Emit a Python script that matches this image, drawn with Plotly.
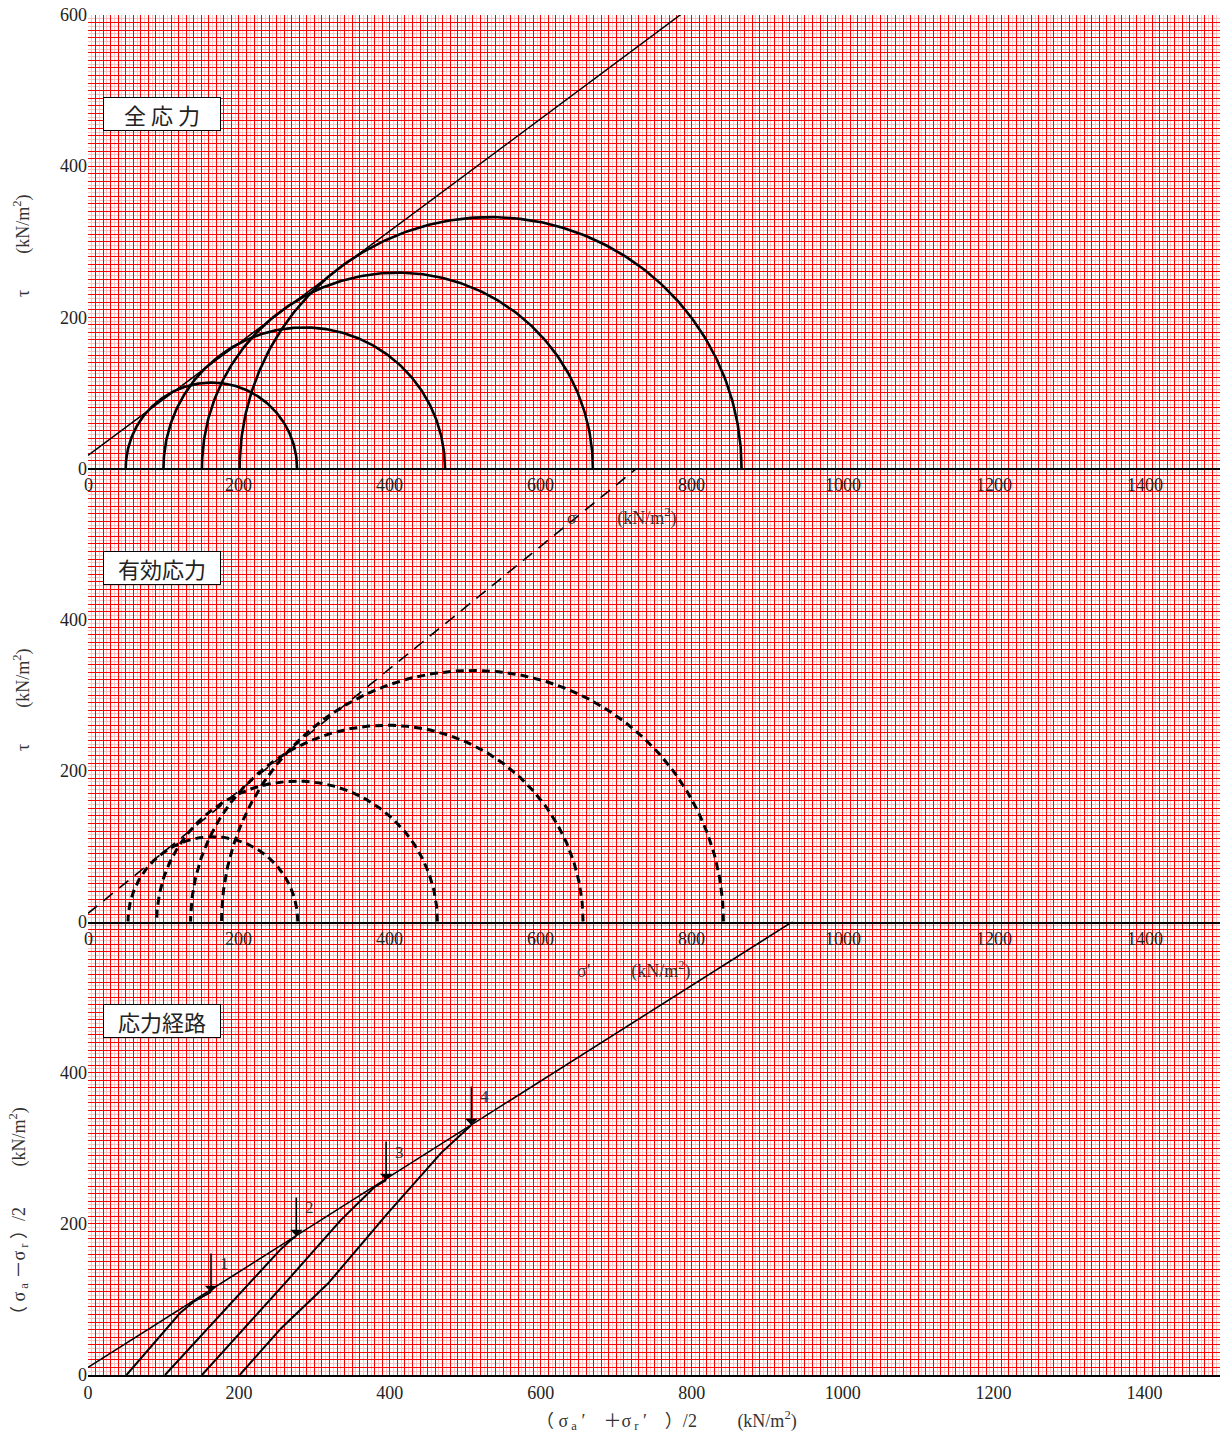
import numpy as np
import plotly.graph_objects as go

# ---------------- data ----------------
# total stress Mohr circles (sigma3, sigma1) kN/m2
tot_s3 = [50, 100, 151, 201]
tot_s1 = [277, 473, 669, 866]
# effective stress Mohr circles (sigma3', sigma1')
eff_s3 = [53, 91, 136, 177]
eff_s1 = [278, 463, 656, 842]
# failure envelopes: cohesion and slope (tan phi)
env_tot_c, env_tot_tan = 17, 0.743
env_eff_c, env_eff_tan = 11, 0.81
# Kf line of stress path diagram
kf_a, kf_tan = 10, 0.632

# effective stress paths  p'=(sa'+sr')/2 , q=(sa-sr)/2
path_p = [
    [51, 87, 122, 140, 152, 163],
    [102, 157, 210, 254, 268, 276],
    [151, 208, 265, 335, 380, 395],
    [201, 256, 318, 397, 468, 508],
]
path_q = [
    [0, 42, 82, 97, 104, 110],
    [0, 60, 117, 165, 178, 184],
    [0, 63, 126, 205, 249, 258],
    [0, 62, 121, 214, 294, 331],
]
path_labels = ["1", "2", "3", "4"]

x_tick_step, x_label_step, x_max = 10, 200, 1500
y_tick_step, y_label_step, y_max = 10, 200, 600
x_label_vals = list(range(0, x_max, x_label_step))

panel_titles = ["全 応 力", "有効応力", "応力経路"]

# ---------------- styling ----------------
SERIF = "Liberation Serif, Noto Sans CJK JP, serif"
JP = "Noto Sans CJK JP, sans-serif"
TXT = "#222222"
L, R, T, B = 88, 1, 15, 61
W, H = 1221, 1436
PW, PH = W - L - R, H - T - B
TICK_SIZE = 18

# subplot ids: top = (x3, y3), middle = (x2, y2), bottom = (x, y)
TOP, MID, BOT = "3", "2", ""


def paper(px, py):
    return (px - L) / PW, (H - B - py) / PH


fig = go.Figure()


def semicircle(s3, s1):
    c = (s1 + s3) / 2
    r = (s1 - s3) / 2
    th = np.linspace(0, np.pi, 241)
    return c + r * np.cos(th), r * np.sin(th)


xs_line = np.array([0, x_max])

# bottom panel: stress paths
fig.add_trace(go.Scatter(x=xs_line, y=kf_a + kf_tan * xs_line, mode="lines",
                         xaxis="x" + BOT, yaxis="y" + BOT,
                         line=dict(color="black", width=1.6), showlegend=False))
for p, q in zip(path_p, path_q):
    fig.add_trace(go.Scatter(x=p, y=q, mode="lines", xaxis="x" + BOT, yaxis="y" + BOT,
                             line=dict(color="black", width=2), showlegend=False))

# middle panel: effective stress
for s3, s1 in zip(eff_s3, eff_s1):
    cx, cy = semicircle(s3, s1)
    fig.add_trace(go.Scatter(x=cx, y=cy, mode="lines", xaxis="x" + MID, yaxis="y" + MID,
                             line=dict(color="black", width=3, dash="8px,5px"),
                             showlegend=False))
fig.add_trace(go.Scatter(x=xs_line, y=env_eff_c + env_eff_tan * xs_line, mode="lines",
                         xaxis="x" + MID, yaxis="y" + MID,
                         line=dict(color="black", width=1.6, dash="12px,8px"),
                         showlegend=False))

# top panel: total stress
for s3, s1 in zip(tot_s3, tot_s1):
    cx, cy = semicircle(s3, s1)
    fig.add_trace(go.Scatter(x=cx, y=cy, mode="lines", xaxis="x" + TOP, yaxis="y" + TOP,
                             line=dict(color="black", width=2.6), showlegend=False))
fig.add_trace(go.Scatter(x=xs_line, y=env_tot_c + env_tot_tan * xs_line, mode="lines",
                         xaxis="x" + TOP, yaxis="y" + TOP,
                         line=dict(color="black", width=1.5), showlegend=False))

annotations = []
for p, q, lab in zip(path_p, path_q, path_labels):
    annotations.append(dict(x=p[-1], y=q[-1], xref="x" + BOT, yref="y" + BOT, text="",
                            showarrow=True, ax=0, ay=-40, arrowhead=1, arrowsize=1.3,
                            arrowwidth=1.6, arrowcolor="black"))
    annotations.append(dict(x=p[-1], y=q[-1], xref="x" + BOT, yref="y" + BOT, text=lab,
                            showarrow=False, xshift=13, yshift=28,
                            font=dict(family=SERIF, size=17, color="#333333")))

# panel title boxes
for title, ax in zip(panel_titles, [TOP, MID, BOT]):
    annotations.append(dict(x=20, y=491, xref="x" + ax, yref="y" + ax, text=title,
                            showarrow=False, xanchor="left", yanchor="top",
                            width=112, height=28, borderpad=2, borderwidth=1,
                            bordercolor="black", bgcolor="white",
                            font=dict(family=JP, size=22, color="#222222")))

# x tick labels of the upper two panels (they lie over the panel below,
# so they are drawn in the annotation layer to stay above its grid)
for ax in [TOP, MID]:
    for v in x_label_vals:
        annotations.append(dict(x=v, y=0, xref="x" + ax, yref="y" + ax, text=str(v),
                                showarrow=False, xanchor="center", yanchor="top",
                                yshift=-5, font=dict(family=SERIF, size=TICK_SIZE, color=TXT)))


# axis titles
def add_text(px, py, text, angle=0, size=18):
    x, y = paper(px, py)
    annotations.append(dict(x=x, y=y, xref="paper", yref="paper", text=text,
                            showarrow=False, textangle=angle, xanchor="center",
                            yanchor="middle", font=dict(family=SERIF, size=size, color="#333333")))


add_text(622, 517, "σ　　 (kN/m<sup>2</sup>)")
add_text(633, 970, "σ′　　 (kN/m<sup>2</sup>)")
add_text(666, 1420, "（ σ<sub> a</sub> ′　＋σ<sub> r</sub> ′　）/2　　 (kN/m<sup>2</sup>)")
add_text(22, 246, "τ　　(kN/m<sup>2</sup>)", angle=-90)
add_text(22, 700, "τ　　(kN/m<sup>2</sup>)", angle=-90)
add_text(18, 1216, "（ σ<sub> a</sub> －σ<sub> r</sub> ）/2　　 (kN/m<sup>2</sup>)", angle=-90)

# axes
x_vals = list(range(0, x_max + 1, x_tick_step))
x_text = [str(v) if v in x_label_vals else "" for v in x_vals]
x_minor = [v + x_tick_step / 2 for v in range(0, x_max, x_tick_step)]
y_vals = list(range(0, y_max + 1, y_tick_step))
y_minor = [v + y_tick_step / 2 for v in range(0, y_max, y_tick_step)]


def y_text(show_top):
    out = []
    for v in y_vals:
        if v % y_label_step == 0 and (v < y_max or show_top):
            out.append(str(v))
        else:
            out.append("")
    return out


MINOR_COL = "#ffc0c0"


def xaxis(anchor, show_labels):
    return dict(range=[0, x_max], anchor=anchor, tickmode="array", tickvals=x_vals,
                ticktext=x_text, showticklabels=show_labels, showgrid=True,
                gridcolor="#ff0000", gridwidth=1,
                minor=dict(tickmode="array", tickvals=x_minor, showgrid=True,
                           gridcolor=MINOR_COL, gridwidth=1, ticks=""),
                ticks="", showline=True, linecolor="black", linewidth=2,
                zeroline=False, tickfont=dict(family=SERIF, size=TICK_SIZE, color=TXT),
                fixedrange=True)


def yaxis(anchor, dom, show_top):
    return dict(range=[0, y_max], domain=dom, anchor=anchor, tickmode="array",
                tickvals=y_vals, ticktext=y_text(show_top), showgrid=True,
                gridcolor="#ff0000", gridwidth=1,
                minor=dict(tickmode="array", tickvals=y_minor, showgrid=True,
                           gridcolor=MINOR_COL, gridwidth=1, ticks=""),
                ticks="", showline=False, zeroline=False,
                tickfont=dict(family=SERIF, size=TICK_SIZE, color=TXT), fixedrange=True)


fig.update_layout(
    width=W, height=H,
    margin=dict(l=L, r=R, t=T, b=B),
    paper_bgcolor="white", plot_bgcolor="white",
    showlegend=False,
    xaxis=xaxis("y", True), yaxis=yaxis("x", [0, 1 / 3], False),
    xaxis2=xaxis("y2", False), yaxis2=yaxis("x2", [1 / 3, 2 / 3], False),
    xaxis3=xaxis("y3", False), yaxis3=yaxis("x3", [2 / 3, 1], True),
    annotations=annotations,
)

fig.write_html("out.html")
